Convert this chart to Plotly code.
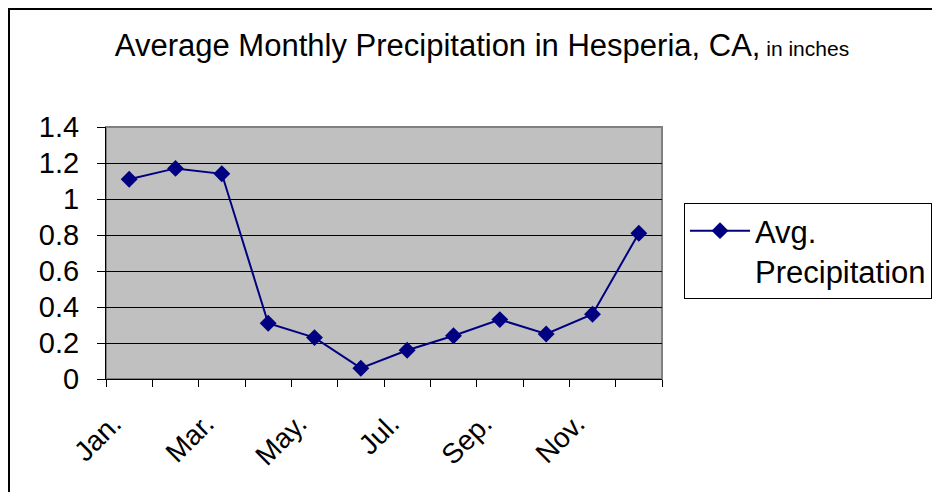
import plotly.graph_objects as go

months = ["Jan.", "Feb.", "Mar.", "Apr.", "May.", "Jun.",
          "Jul.", "Aug.", "Sep.", "Oct.", "Nov.", "Dec."]
precip = [1.11, 1.17, 1.14, 0.31, 0.23, 0.06, 0.16, 0.24, 0.33, 0.25, 0.36, 0.81]
tick_text = ["Jan.", "", "Mar.", "", "May.", "", "Jul.", "", "Sep.", "", "Nov.", ""]
y_ticks = [0, 0.2, 0.4, 0.6, 0.8, 1, 1.2, 1.4]
series_name = "Avg.<br>Precipitation"

FONT = "Liberation Sans, Arial, sans-serif"
NAVY = "#000080"

fig = go.Figure()
fig.add_trace(go.Scatter(
    x=months, y=precip, mode="lines+markers", name=series_name,
    line=dict(color=NAVY, width=2),
    marker=dict(symbol="diamond", size=13, color=NAVY),
))

# page has an 8px body margin; figure coords = page coords - 8
W, H = 940, 492
L, T = 98, 119
pw, ph = 556, 252
R, B = W - L - pw, H - T - ph

def px_x(p):
    return (p - L) / pw

def px_y(p):
    return 1 - (p - T) / ph

fig.update_layout(
    width=W, height=H,
    margin=dict(l=L, r=R, t=T, b=B),
    paper_bgcolor="white",
    plot_bgcolor="#C0C0C0",
    font=dict(family=FONT, color="black", size=28),
    title=dict(
        text="Average Monthly Precipitation in Hesperia, CA,<span style='font-size:21px'> in inches</span>",
        x=474 / W, xanchor="center", y=1 - 37 / H, yanchor="middle",
        font=dict(family=FONT, size=31, color="black"),
    ),
    showlegend=True,
    legend=dict(
        x=px_x(676), xanchor="left", y=px_y(243), yanchor="middle",
        bordercolor="black", borderwidth=1, bgcolor="white",
        font=dict(family=FONT, size=31, color="black"),
        valign="top", itemwidth=60, tracegroupgap=0,
    ),
    xaxis=dict(
        type="category", tickmode="array", tickvals=months, ticktext=tick_text,
        tickson="boundaries", ticks="outside", ticklen=7, tickcolor="black",
        showline=True, linecolor="black", linewidth=1, showgrid=False,
        tickangle=-45, tickfont=dict(size=28), range=[-0.5, 11.5],
        ticklabelstandoff=16, ticklabelshift=-16,
    ),
    yaxis=dict(
        range=[0, 1.4], tickmode="array", tickvals=y_ticks,
        ticks="outside", ticklen=8, tickcolor="black",
        showline=True, linecolor="black", linewidth=1,
        showgrid=True, gridcolor="black", gridwidth=1, zeroline=False,
        tickfont=dict(size=29), ticklabelstandoff=12,
    ),
    shapes=[
        dict(type="rect", xref="paper", yref="paper", x0=0, x1=1, y0=0, y1=1,
             line=dict(color="#808080", width=2), layer="below"),
        dict(type="rect", xref="paper", yref="paper",
             x0=px_x(1), x1=px_x(980), y0=px_y(520), y1=px_y(1),
             line=dict(color="black", width=2)),
    ],
)

fig.write_html("out.html")
